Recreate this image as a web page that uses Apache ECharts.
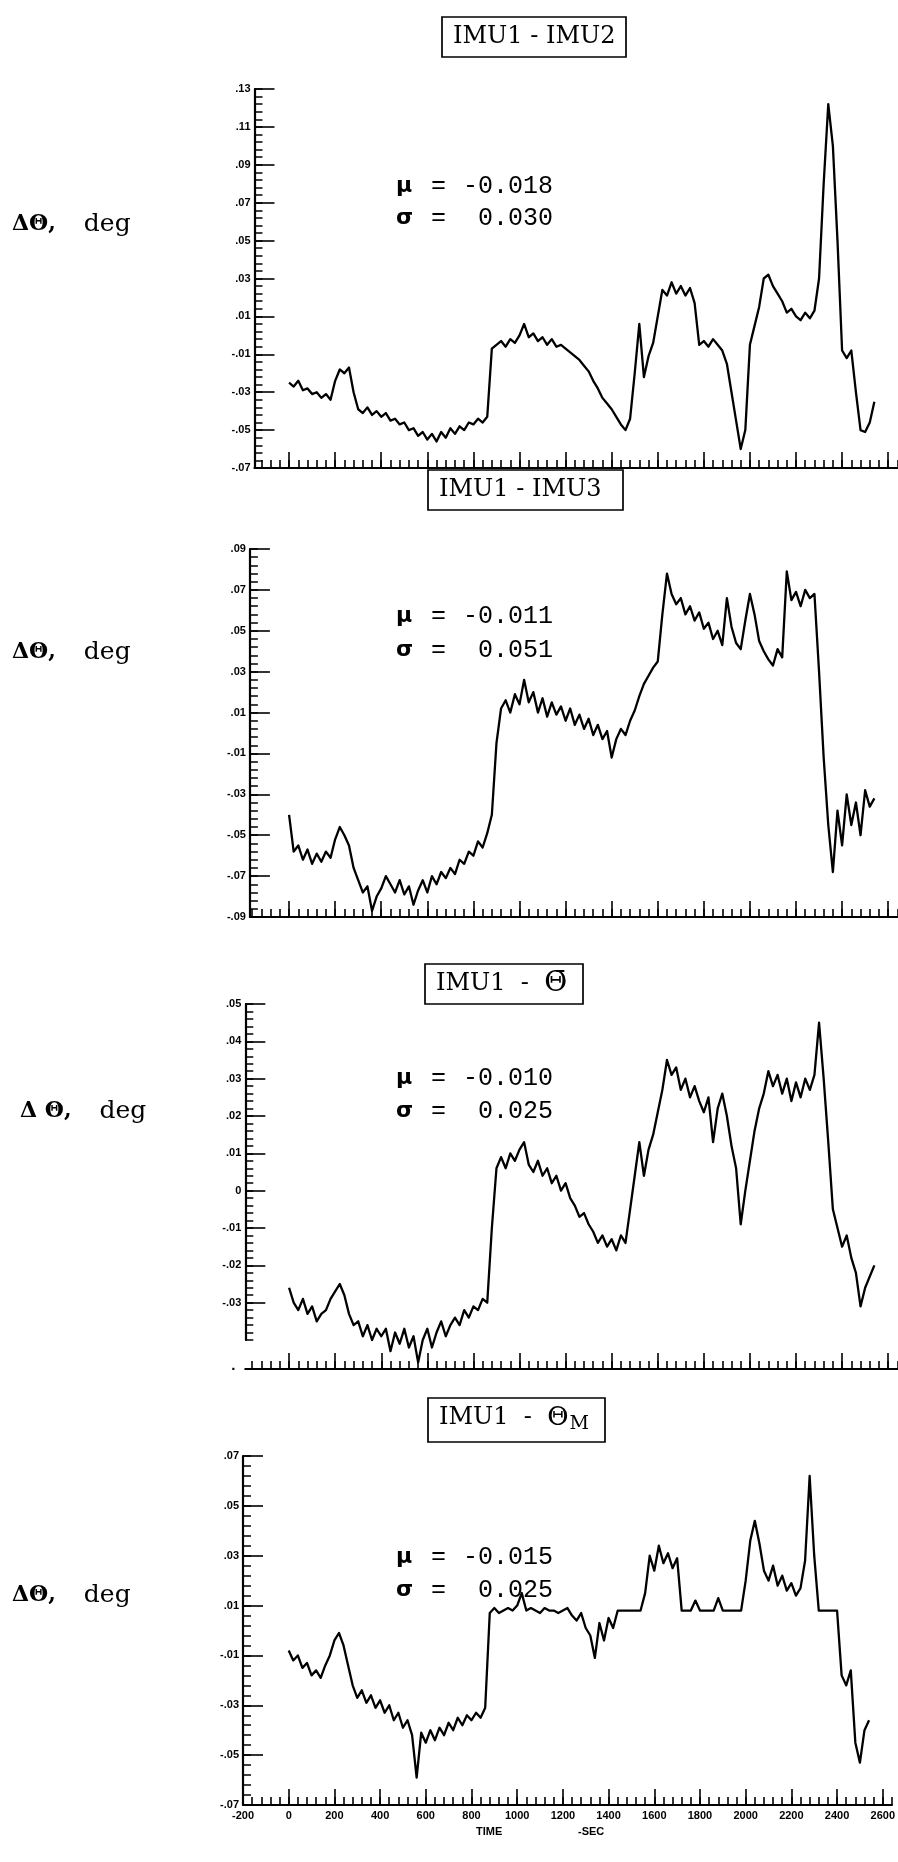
<!DOCTYPE html>
<html><head><meta charset="utf-8">
<script src="https://cdn.jsdelivr.net/npm/echarts@6/dist/echarts.min.js"></script>
<style>html,body{margin:0;padding:0;background:#fff}#c{width:898px;height:1862px}</style>
</head><body><div id="c"></div>
<script>
// ---------------- DATA ----------------
const timeSec = [0,20,40,60,80,100,120,140,160,180,200,220,240,260,280,300,320,340,360,380,400,420,440,460,480,500,520,540,560,580,600,620,640,660,680,700,720,740,760,780,800,820,840,860,880,900,920,940,960,980,1000,1020,1040,1060,1080,1100,1120,1140,1160,1180,1200,1220,1240,1260,1280,1300,1320,1340,1360,1380,1400,1420,1440,1460,1480,1500,1520,1540,1560,1580,1600,1620,1640,1660,1680,1700,1720,1740,1760,1780,1800,1820,1840,1860,1880,1900,1920,1940,1960,1980,2000,2020,2040,2060,2080,2100,2120,2140,2160,2180,2200,2220,2240,2260,2280,2300,2320,2340,2360,2380,2400,2420,2440,2460,2480,2500,2520,2540];

const imu1MinusImu2 = [
 -0.025,-0.027,-0.024,-0.029,-0.028,-0.031,-0.030,-0.033,-0.031,-0.034,
 -0.024,-0.018,-0.020,-0.017,-0.030,-0.039,-0.041,-0.038,-0.042,-0.040,
 -0.043,-0.041,-0.045,-0.044,-0.047,-0.046,-0.050,-0.049,-0.053,-0.051,
 -0.055,-0.052,-0.056,-0.051,-0.054,-0.049,-0.052,-0.048,-0.050,-0.046,
 -0.047,-0.044,-0.046,-0.043,-0.007,-0.005,-0.003,-0.006,-0.002,-0.004,
 0.000,0.006,-0.001,0.001,-0.003,-0.001,-0.005,-0.002,-0.006,-0.005,
 -0.007,-0.009,-0.011,-0.013,-0.016,-0.019,-0.024,-0.028,-0.033,-0.036,
 -0.039,-0.043,-0.047,-0.050,-0.044,-0.020,0.006,-0.022,-0.011,-0.004,
 0.010,0.024,0.021,0.028,0.022,0.026,0.021,0.025,0.017,-0.005,
 -0.003,-0.006,-0.002,-0.005,-0.008,-0.015,-0.030,-0.045,-0.060,-0.050,
 -0.005,0.005,0.015,0.030,0.032,0.026,0.022,0.018,0.012,0.014,
 0.010,0.008,0.012,0.009,0.013,0.030,0.080,0.122,0.100,0.050,
 -0.008,-0.012,-0.008,-0.030,-0.050,-0.051,-0.046,-0.035];

const imu1MinusImu3 = [
 -0.040,-0.058,-0.055,-0.062,-0.057,-0.064,-0.059,-0.063,-0.058,-0.061,
 -0.052,-0.046,-0.050,-0.055,-0.066,-0.072,-0.078,-0.075,-0.087,-0.080,
 -0.076,-0.070,-0.074,-0.078,-0.072,-0.079,-0.075,-0.084,-0.077,-0.072,
 -0.078,-0.070,-0.074,-0.068,-0.071,-0.066,-0.069,-0.062,-0.064,-0.058,
 -0.060,-0.053,-0.056,-0.049,-0.040,-0.005,0.012,0.016,0.010,0.019,
 0.014,0.026,0.015,0.020,0.010,0.017,0.008,0.015,0.009,0.013,
 0.006,0.012,0.004,0.009,0.002,0.007,-0.001,0.004,-0.003,0.001,
 -0.012,-0.003,0.002,-0.001,0.006,0.011,0.018,0.024,0.028,0.032,
 0.035,0.058,0.078,0.068,0.063,0.066,0.058,0.062,0.055,0.059,
 0.051,0.054,0.046,0.050,0.043,0.066,0.052,0.044,0.041,0.055,
 0.068,0.058,0.045,0.040,0.036,0.033,0.041,0.037,0.079,0.065,
 0.069,0.062,0.070,0.066,0.068,0.030,-0.012,-0.045,-0.068,-0.038,
 -0.055,-0.030,-0.045,-0.034,-0.050,-0.028,-0.036,-0.032];

const imu1MinusMean = [
 -0.026,-0.030,-0.032,-0.029,-0.033,-0.031,-0.035,-0.033,-0.032,-0.029,
 -0.027,-0.025,-0.028,-0.033,-0.036,-0.035,-0.039,-0.036,-0.040,-0.037,
 -0.039,-0.037,-0.043,-0.038,-0.041,-0.037,-0.042,-0.039,-0.046,-0.040,
 -0.037,-0.042,-0.038,-0.035,-0.039,-0.036,-0.034,-0.036,-0.032,-0.034,
 -0.031,-0.032,-0.029,-0.030,-0.010,0.006,0.009,0.006,0.010,0.008,
 0.011,0.013,0.007,0.005,0.008,0.004,0.006,0.002,0.004,0.000,
 0.002,-0.002,-0.004,-0.007,-0.006,-0.009,-0.011,-0.014,-0.012,-0.015,
 -0.013,-0.016,-0.012,-0.014,-0.005,0.004,0.013,0.004,0.011,0.015,
 0.021,0.027,0.035,0.031,0.033,0.027,0.030,0.025,0.028,0.024,
 0.021,0.025,0.013,0.022,0.026,0.020,0.012,0.006,-0.009,0.000,
 0.008,0.016,0.022,0.026,0.032,0.028,0.031,0.026,0.030,0.024,
 0.029,0.025,0.030,0.027,0.031,0.045,0.030,0.013,-0.005,-0.010,
 -0.015,-0.012,-0.018,-0.022,-0.031,-0.026,-0.023,-0.020];

const imu1MinusModel = [
 -0.008,-0.012,-0.010,-0.015,-0.013,-0.018,-0.016,-0.019,-0.014,-0.010,
 -0.004,-0.001,-0.006,-0.014,-0.022,-0.027,-0.024,-0.029,-0.026,-0.031,
 -0.028,-0.033,-0.030,-0.036,-0.033,-0.039,-0.036,-0.042,-0.059,-0.041,
 -0.045,-0.040,-0.044,-0.039,-0.042,-0.037,-0.040,-0.035,-0.038,-0.034,
 -0.036,-0.033,-0.035,-0.031,0.007,0.009,0.007,0.008,0.009,0.008,
 0.010,0.015,0.008,0.009,0.008,0.007,0.009,0.008,0.008,0.007,
 0.008,0.009,0.006,0.004,0.007,0.001,-0.002,-0.011,0.003,-0.004,
 0.005,0.001,0.008,0.008,0.008,0.008,0.008,0.008,0.015,0.030,
 0.024,0.034,0.027,0.031,0.025,0.029,0.008,0.008,0.008,0.012,
 0.008,0.008,0.008,0.008,0.013,0.008,0.008,0.008,0.008,0.008,
 0.020,0.036,0.044,0.035,0.024,0.020,0.026,0.018,0.022,0.016,
 0.019,0.014,0.017,0.028,0.062,0.030,0.008,0.008,0.008,0.008,
 0.008,-0.018,-0.022,-0.016,-0.045,-0.053,-0.040,-0.036];

const panelTitles = ['IMU1 - IMU2', 'IMU1 - IMU3', 'IMU1  -  {o|\u0398\u0304}', 'IMU1  -  {t|\u0398}{s|M}'];
const yLabelTexts = ['{b|\u0394\u0398,}    {d|deg}', '{b|\u0394\u0398,}    {d|deg}', '{b|\u0394 \u0398,}    {d|deg}', '{b|\u0394\u0398,}    {d|deg}'];
const muValues = ['-0.018', '-0.011', '-0.010', '-0.015'];
const sigmaValues = ['0.030', '0.051', '0.025', '0.025'];

const xMajorTicks = [-200,0,200,400,600,800,1000,1200,1400,1600,1800,2000,2200,2400,2600];
const p1YTicks = [-0.07,-0.05,-0.03,-0.01,0.01,0.03,0.05,0.07,0.09,0.11,0.13];
const p2YTicks = [-0.09,-0.07,-0.05,-0.03,-0.01,0.01,0.03,0.05,0.07,0.09];
const p3YTicks = [-0.03,-0.02,-0.01,0,0.01,0.02,0.03,0.04,0.05];
const p4YTicks = [-0.07,-0.05,-0.03,-0.01,0.01,0.03,0.05,0.07];
const xAxisName = ['TIME', '-SEC'];

// ---------------- LAYOUT ----------------
const X_MAX = 2640, RIGHT_EDGE = 897.4;
const panels = [
  {vals: imu1MinusImu2, xMin:-150, left:254.5, top:89,   height:379, yMin:-0.07, yMax:0.13, yTicks:p1YTicks, yStep:0.004,
   titlePos:[442,17], titlePad:[6,11,6,11], labelPos:[12,224], statPos:[396,186,218]},
  {vals: imu1MinusImu3, xMin:-170, left:249.9, top:549,  height:368, yMin:-0.09, yMax:0.09, yTicks:p2YTicks, yStep:0.004,
   titlePos:[428,470], titlePad:[6,22,6,11], labelPos:[12,652], statPos:[396,616,650]},
  {vals: imu1MinusMean, xMin:-190, left:245.3, top:1004, height:336, yMin:-0.04, yMax:0.05, yTicks:p3YTicks, yStep:0.002,
   titlePos:[425,964], titlePad:[6,16,6,11], labelPos:[20,1111], statPos:[396,1078,1111], detachedX:1369},
  {vals: imu1MinusModel, xMin:-200, left:243,  top:1456, height:349, yMin:-0.07, yMax:0.07, yTicks:p4YTicks, yStep:0.004,
   titlePos:[428,1398], titlePad:[6,16,8,11], labelPos:[12,1595], statPos:[396,1557,1590], xLabels:true}
];

function steps(min, max, step) {
  const out = []; const n = Math.floor((max - min) / step + 1e-6);
  for (let i = 0; i <= n; i++) out.push(+(min + i * step).toFixed(6));
  return out;
}
function fmtY(v) {
  if (Math.abs(v) < 1e-9) return '0';
  return (v < 0 ? '-' : '') + Math.abs(v).toFixed(2).replace(/^0/, '');
}

const BLACK = '#000';
const tickFont = {fontFamily:'Liberation Sans', fontWeight:'bold', fontSize:11, color:BLACK};
const grids = [], xAxes = [], yAxes = [], series = [], titles = [], graphics = [];

function xAxisPair(gi, p, withLabels) {
  const minor = steps(-200, X_MAX, 40).filter(v => v >= p.xMin && v <= X_MAX);
  const major = xMajorTicks.filter(v => v >= p.xMin && v <= X_MAX);
  xAxes.push({gridIndex:gi, type:'value', min:p.xMin, max:X_MAX, position:'bottom',
    axisLine:{show:true, onZero:false, lineStyle:{color:BLACK, width:2.2}},
    axisTick:{show:true, inside:true, length:8, customValues:minor, lineStyle:{color:BLACK, width:1.6}},
    axisLabel:{show:false}, splitLine:{show:false}});
  xAxes.push({gridIndex:gi, type:'value', min:p.xMin, max:X_MAX, position:'bottom',
    axisLine:{show:false, onZero:false},
    axisTick:{show:true, inside:true, length:16, customValues:major, lineStyle:{color:BLACK, width:1.6}},
    axisLabel:{show:!!withLabels, customValues:xMajorTicks, margin:5, formatter:v => String(v), ...tickFont},
    splitLine:{show:false}});
}

const statRich = {
  g:{fontFamily:'DejaVu Sans', fontWeight:'bold', fontSize:22, width:35},
  e:{fontFamily:'Liberation Mono', fontSize:25, width:32},
  v:{fontFamily:'Liberation Mono', fontSize:25}
};

panels.forEach((p, i) => {
  const width = RIGHT_EDGE - p.left;
  const gi = grids.length;
  grids.push({left:p.left, top:p.top, width:width, height:p.height});
  let seriesX;
  if (p.detachedX) {
    seriesX = xAxes.length;
    xAxes.push({gridIndex:gi, type:'value', min:p.xMin, max:X_MAX, show:false, position:'bottom'});
  } else {
    seriesX = xAxes.length;
    xAxisPair(gi, p, p.xLabels);
  }
  const seriesY = yAxes.length;
  yAxes.push({gridIndex:gi, type:'value', min:p.yMin, max:p.yMax, position:'left',
    axisLine:{show:true, onZero:false, lineStyle:{color:BLACK, width:2.2}},
    axisTick:{show:true, inside:true, length:20, customValues:p.yTicks, lineStyle:{color:BLACK, width:1.6}},
    axisLabel:{customValues:p.yTicks, formatter:fmtY, margin:4, ...tickFont},
    splitLine:{show:false}});
  yAxes.push({gridIndex:gi, type:'value', min:p.yMin, max:p.yMax, position:'left',
    axisLine:{show:false, onZero:false},
    axisTick:{show:true, inside:true, length:8, customValues:steps(p.yMin, p.yMax, p.yStep), lineStyle:{color:BLACK, width:1.5}},
    axisLabel:{show:false}, splitLine:{show:false}});
  if (p.detachedX) {
    const g2 = grids.length;
    grids.push({left:p.left, top:p.detachedX - 1, width:width, height:1});
    xAxisPair(g2, p, false);
    yAxes.push({gridIndex:g2, type:'value', min:0, max:1, show:false});
    graphics.push({type:'text', x:p.left - 14, y:p.detachedX - 11, style:{text:'.', font:'bold 15px Liberation Sans', fill:BLACK}});
  }
  series.push({type:'line', xAxisIndex:seriesX, yAxisIndex:seriesY, showSymbol:false, symbol:'none', clip:false,
    data: timeSec.map((t, j) => [t, p.vals[j]]), lineStyle:{color:BLACK, width:2.3, join:'round'}, silent:true});

  titles.push({text:panelTitles[i], left:p.titlePos[0], top:p.titlePos[1], padding:p.titlePad,
    borderColor:BLACK, borderWidth:1.7,
    textStyle:{fontFamily:'DejaVu Serif', fontWeight:'normal', fontSize:24, lineHeight:28, color:BLACK,
      rich:{o:{fontFamily:'DejaVu Serif', fontSize:28, lineHeight:28},
            t:{fontFamily:'DejaVu Serif', fontSize:26, lineHeight:28},
            s:{fontFamily:'DejaVu Serif', fontSize:19, padding:[13,0,0,1]}}}});

  graphics.push({type:'text', x:p.labelPos[0], y:p.labelPos[1], style:{text:yLabelTexts[i], fontFamily:'DejaVu Serif', fontSize:22,
    fill:BLACK, verticalAlign:'middle',
    rich:{b:{fontFamily:'DejaVu Serif', fontWeight:'bold', fontSize:22}, d:{fontFamily:'DejaVu Serif', fontSize:25}}}});
  graphics.push({type:'text', x:p.statPos[0], y:p.statPos[1], style:{text:'{g|\u03bc}{e|=}{v|' + muValues[i] + '}',
    fill:BLACK, verticalAlign:'middle', rich:statRich}});
  graphics.push({type:'text', x:p.statPos[0], y:p.statPos[2], style:{text:'{g|\u03c3}{e|=}{v| ' + sigmaValues[i] + '}',
    fill:BLACK, verticalAlign:'middle', rich:statRich}});
});

graphics.push({type:'text', x:476, y:1826, style:{text:xAxisName[0], font:'bold 11px Liberation Sans', fill:BLACK}});
graphics.push({type:'text', x:578, y:1826, style:{text:xAxisName[1], font:'bold 11px Liberation Sans', fill:BLACK}});

const chart = echarts.init(document.getElementById('c'), null, {renderer:'canvas'});
chart.setOption({animation:false, backgroundColor:'#fff', title:titles, grid:grids, xAxis:xAxes, yAxis:yAxes, series:series, graphic:graphics});
</script></body></html>
